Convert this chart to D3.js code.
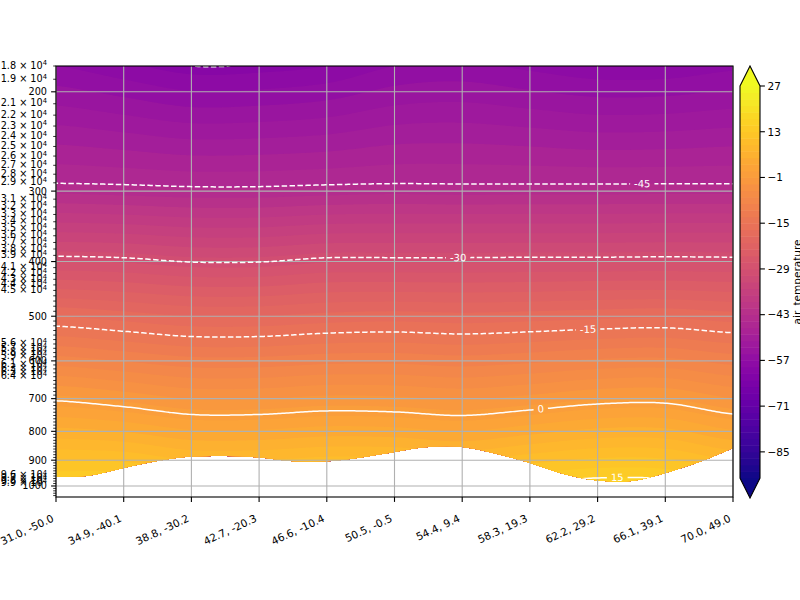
<!DOCTYPE html>
<html>
<head>
<meta charset="utf-8">
<script src="https://cdn.jsdelivr.net/npm/d3@7"></script>
<style>
  body { margin: 0; background: #fff; }
  svg { font-family: "DejaVu Sans", sans-serif; }
</style>
</head>
<body>
<svg id="chart" width="800" height="600"></svg>
<script>
// cross-section points (lat, lon)
const xLabels = ["31.0, -50.0", "34.9, -40.1", "38.8, -30.2", "42.7, -20.3", "46.6, -10.4", "50.5, -0.5",
  "54.4, 9.4", "58.3, 19.3", "62.2, 29.2", "66.1, 39.1", "70.0, 49.0"];

// pressure levels (hPa)
const pressureLevels = [180, 200, 250, 290, 300, 350, 400, 450, 500, 600, 700, 800, 850, 900, 950, 1000, 1050];

// air temperature (degC), one row per pressure level, one value per cross-section point
const airTemp = [
  [-57.0, -58.5, -60.0, -59.8, -59.0, -57.0, -56.5, -57.5, -58.5, -58.5, -57.5],
  [-54.4, -55.6, -56.9, -56.7, -56.0, -54.4, -54.0, -54.8, -55.6, -55.5, -54.8],
  [-48.8, -49.4, -50.1, -50.0, -49.6, -48.8, -48.7, -49.0, -49.4, -49.3, -49.0],
  [-45.1, -45.3, -45.6, -45.6, -45.35, -45.15, -45.2, -45.2, -45.2, -45.2, -45.2],
  [-43.5, -43.9, -44.3, -44.3, -43.9, -43.6, -43.8, -43.7, -43.7, -43.6, -43.6],
  [-35.7, -36.0, -36.7, -36.7, -36.0, -35.9, -35.9, -35.9, -35.9, -35.8, -35.8],
  [-28.9, -29.2, -30.1, -30.1, -29.2, -29.2, -29.2, -29.1, -29.1, -29.0, -29.1],
  [-22.7, -23.3, -24.2, -24.2, -23.4, -23.3, -23.4, -23.3, -23.0, -22.9, -23.3],
  [-17.0, -18.0, -19.0, -19.0, -18.3, -18.0, -18.3, -18.0, -17.6, -17.3, -18.1],
  [-8.0, -9.1, -10.2, -10.2, -9.6, -9.5, -10.0, -9.4, -8.6, -8.4, -9.7],
  [-0.4, -1.6, -3.1, -3.1, -2.4, -2.6, -3.2, -2.3, -1.1, -0.9, -2.9],
  [5.7, 4.9, 3.3, 3.3, 4.0, 3.8, 3.0, 4.3, 5.6, 5.6, 3.3],
  [8.4, 7.9, 6.2, 6.2, 6.9, 6.8, 6.0, 7.4, 8.6, 8.5, 6.2],
  [11.0, 10.7, 9.0, 9.0, 9.7, 9.6, 8.9, 10.3, 11.4, 11.3, 9.0],
  [13.4, 13.3, 11.7, 11.7, 12.3, 12.3, 11.6, 13.0, 14.1, 13.9, 11.7],
  [15.7, 15.8, 14.2, 14.2, 14.8, 14.8, 14.2, 15.6, 16.6, 16.4, 14.2],
  [18.0, 18.2, 16.6, 16.6, 17.2, 17.2, 16.6, 18.1, 19.1, 18.8, 16.6]
];

// surface pressure along the section (below it there is no data)
const surfaceX = [0, 0.5, 1, 1.5, 2, 2.5, 3, 3.5, 4, 4.5, 5, 5.5, 6, 6.5, 7, 7.5, 8, 8.5, 9, 9.5, 10];
const surfaceP = [963, 958, 929, 903, 887, 885, 890, 904, 904, 890, 870, 853, 853, 877, 910, 952, 978, 980, 948, 907, 856];

// contour settings
const fillLevels = d3.range(-93, 27.001, 2);
const lineLevels = [-60, -45, -30, -15, 0, 15];
const labelLevels = [-45, -30, -15, 0, 15];
const labelAt = [8.66, 5.94, 7.86, 7.16, 8.29];
const cbarTicks = [27, 13, -1, -15, -29, -43, -57, -71, -85];

const yMajor = [200, 300, 400, 500, 600, 700, 800, 900, 1000];
const yMinorLabeled = [180, 190, 210, 220, 230, 240, 250, 260, 270, 280, 290, 310, 320, 330, 340, 350, 360, 370, 380, 390,
  410, 420, 430, 440, 450, 560, 570, 580, 590, 610, 620, 630, 640, 960, 970, 980, 990];

const svg = d3.select("#chart");
const plotLeft = 56, plotRight = 733, plotTop = 66, plotBottom = 497;

const x = d3.scaleLinear().domain([0, 10]).range([plotLeft, plotRight]);
const y = d3.scaleLog().domain([1046, 180]).range([plotBottom, plotTop]);
const color = v => d3.interpolatePlasma((v - fillLevels[0]) / (fillLevels[fillLevels.length - 1] - fillLevels[0]));

// field lookup: linear in log p, catmull-rom along the section
const logP = pressureLevels.map(Math.log);
function columnValue(c, lp) {
  let j = d3.bisectRight(logP, lp) - 1;
  j = Math.max(0, Math.min(logP.length - 2, j));
  let t = (lp - logP[j]) / (logP[j + 1] - logP[j]);
  t = Math.max(0, Math.min(1, t));
  return airTemp[j][c] * (1 - t) + airTemp[j + 1][c] * t;
}
function field(xi, lp) {
  xi = Math.max(0, Math.min(10, xi));
  const i = Math.min(Math.floor(xi), 9), t = xi - i;
  const p0 = columnValue(Math.max(i - 1, 0), lp), p1 = columnValue(i, lp),
        p2 = columnValue(i + 1, lp), p3 = columnValue(Math.min(i + 2, 10), lp);
  return 0.5 * (2 * p1 + (-p0 + p2) * t + (2 * p0 - 5 * p1 + 4 * p2 - p3) * t * t + (-p0 + 3 * p1 - 3 * p2 + p3) * t * t * t);
}

const nx = 340, ny = 260;
const xi0 = -0.15, xi1 = 10.15, lp0 = Math.log(174), lp1 = Math.log(1065);
const sx = (xi1 - xi0) / (nx - 1), sy = (lp1 - lp0) / (ny - 1);
const values = new Float64Array(nx * ny);
for (let j = 0; j < ny; j++) {
  for (let i = 0; i < nx; i++) values[j * nx + i] = field(xi0 + i * sx, lp0 + j * sy);
}

const toPx = d3.geoTransform({
  point(px, py) {
    this.stream.point(x(xi0 + (px - 0.5) * sx), y(Math.exp(lp0 + (py - 0.5) * sy)));
  }
});
const gpath = d3.geoPath(toPx);

// clip: plot area above the ground
const surface = surfaceX.map((d, i) => [d, surfaceP[i]]);
const defs = svg.append("defs");
defs.append("clipPath").attr("id", "air")
  .append("path")
  .attr("d", d3.area()
    .x(d => x(d[0]))
    .y0(plotTop)
    .y1(d => y(d[1]))
    .curve(d3.curveCatmullRom)(surface));

// filled contours
const fills = d3.contours().size([nx, ny]).thresholds(fillLevels.slice(0, -1))(values);
svg.append("g").attr("clip-path", "url(#air)")
  .selectAll("path")
  .data(fills)
  .join("path")
  .attr("d", gpath)
  .attr("fill", d => color(d.value + 1));

// grid
const grid = svg.append("g").attr("stroke", "#b0b0b0").attr("stroke-width", 1.1);
grid.selectAll("line.gx").data(d3.range(0, 11)).join("line")
  .attr("x1", d => x(d)).attr("x2", d => x(d)).attr("y1", plotTop).attr("y2", plotBottom);
grid.selectAll("line.gy").data(yMajor).join("line")
  .attr("x1", plotLeft).attr("x2", plotRight).attr("y1", d => y(d)).attr("y2", d => y(d));

// contour label positions
function isoLogP(xi, level) {
  let lo = Math.log(180), hi = Math.log(1046);
  for (let k = 0; k < 40; k++) {
    const mid = (lo + hi) / 2;
    if (field(xi, mid) < level) lo = mid; else hi = mid;
  }
  return (lo + hi) / 2;
}
const labels = labelLevels.map((lev, k) => {
  const xi = labelAt[k];
  const px = x(xi), py = y(Math.exp(isoLogP(xi, lev)));
  const pa = [x(xi - 0.05), y(Math.exp(isoLogP(xi - 0.05, lev)))];
  const pb = [x(xi + 0.05), y(Math.exp(isoLogP(xi + 0.05, lev)))];
  const angle = Math.atan2(pb[1] - pa[1], pb[0] - pa[0]) * 180 / Math.PI;
  return {text: String(lev), px, py, angle};
});

const labelG = svg.append("g")
  .attr("fill", "#fff")
  .style("font-size", "10px")
  .attr("text-anchor", "middle")
  .attr("dominant-baseline", "central");
const labelText = labelG.selectAll("text").data(labels).join("text")
  .attr("transform", d => `translate(${d.px},${d.py}) rotate(${d.angle})`)
  .text(d => d.text);
labelText.each(function(d) { d.w = this.getComputedTextLength(); });

const mask = defs.append("mask").attr("id", "gaps").attr("maskUnits", "userSpaceOnUse")
  .attr("x", 0).attr("y", 0).attr("width", 800).attr("height", 600);
mask.append("rect").attr("width", 800).attr("height", 600).attr("fill", "#fff");
mask.selectAll("rect.gap").data(labels).join("rect")
  .attr("class", "gap")
  .attr("x", d => -d.w / 2 - 4).attr("y", -6)
  .attr("width", d => d.w + 8).attr("height", 12)
  .attr("transform", d => `translate(${d.px},${d.py}) rotate(${d.angle})`)
  .attr("fill", "#000");

// contour lines
const iso = d3.contours().size([nx, ny]).thresholds(lineLevels)(values);
svg.append("g").attr("clip-path", "url(#air)")
  .append("g").attr("mask", "url(#gaps)")
  .selectAll("path")
  .data(iso)
  .join("path")
  .attr("d", gpath)
  .attr("fill", "none")
  .attr("stroke", "#fff")
  .attr("stroke-width", 1.5)
  .attr("stroke-dasharray", d => d.value < 0 ? "5.5,2.4" : null);

labelG.raise();

// frame
svg.append("rect")
  .attr("x", plotLeft).attr("y", plotTop).attr("width", plotRight - plotLeft).attr("height", plotBottom - plotTop)
  .attr("fill", "none").attr("stroke", "#000").attr("stroke-width", 1.1);

// x axis
const xAxis = svg.append("g");
xAxis.selectAll("line").data(d3.range(0, 11)).join("line")
  .attr("x1", d => x(d)).attr("x2", d => x(d)).attr("y1", plotBottom).attr("y2", plotBottom + 4.9)
  .attr("stroke", "#000").attr("stroke-width", 1.1);
xAxis.selectAll("text").data(xLabels).join("text")
  .attr("text-anchor", "end")
  .attr("transform", (d, i) => `translate(${x(i) - 1.5},${plotBottom + 24}) rotate(-25)`)
  .style("font-size", "10.5px")
  .text(d => d);

// y axis
const yAxis = svg.append("g");
yAxis.selectAll("line.maj").data(yMajor).join("line")
  .attr("class", "maj")
  .attr("x1", plotLeft - 4.9).attr("x2", plotLeft).attr("y1", d => y(d)).attr("y2", d => y(d))
  .attr("stroke", "#000").attr("stroke-width", 1.1);
const yMinor = d3.range(180, 1041, 10).filter(d => d % 100 !== 0);
yAxis.selectAll("line.min").data(yMinor).join("line")
  .attr("class", "min")
  .attr("x1", plotLeft - 2.8).attr("x2", plotLeft).attr("y1", d => y(d)).attr("y2", d => y(d))
  .attr("stroke", "#000").attr("stroke-width", 0.8);
yAxis.selectAll("text.maj").data(yMajor).join("text")
  .attr("class", "maj")
  .attr("x", 47).attr("y", d => y(d) + 3.5)
  .attr("text-anchor", "end")
  .style("font-size", "9.7px")
  .text(d => d);
const minorText = yAxis.selectAll("text.min").data(yMinorLabeled).join("text")
  .attr("class", "min")
  .attr("x", 47).attr("y", d => y(d) + 2.5)
  .attr("text-anchor", "end")
  .style("font-size", "9.7px");
minorText.append("tspan").text(d => (d / 100).toFixed(1) + " \u00d7 10");
minorText.append("tspan").attr("dy", "-0.45em").style("font-size", "6.8px").text("4");

// colorbar
const cbX = 740, cbW = 20;
const cb = d3.scaleLinear().domain([fillLevels[0], fillLevels[fillLevels.length - 1]]).range([478, 86]);
const cbar = svg.append("g");
cbar.selectAll("rect").data(fillLevels.slice(0, -1)).join("rect")
  .attr("x", cbX).attr("width", cbW)
  .attr("y", d => cb(d + 2)).attr("height", d => cb(d) - cb(d + 2) + 0.5)
  .attr("fill", d => color(d + 1));
cbar.append("path")
  .attr("d", `M${cbX},${cb(27)}L${cbX + cbW / 2},${cb(27) - 20}L${cbX + cbW},${cb(27)}Z`)
  .attr("fill", d3.interpolatePlasma(1));
cbar.append("path")
  .attr("d", `M${cbX},${cb(-93)}L${cbX + cbW / 2},${cb(-93) + 20}L${cbX + cbW},${cb(-93)}Z`)
  .attr("fill", d3.interpolatePlasma(0));
cbar.append("path")
  .attr("d", `M${cbX},${cb(27)}L${cbX + cbW / 2},${cb(27) - 20}L${cbX + cbW},${cb(27)}L${cbX + cbW},${cb(-93)}L${cbX + cbW / 2},${cb(-93) + 20}L${cbX},${cb(-93)}Z`)
  .attr("fill", "none").attr("stroke", "#000").attr("stroke-width", 1.1);
cbar.selectAll("line").data(cbarTicks).join("line")
  .attr("x1", cbX + cbW).attr("x2", cbX + cbW + 4.9).attr("y1", d => cb(d)).attr("y2", d => cb(d))
  .attr("stroke", "#000").attr("stroke-width", 1.1);
cbar.selectAll("text").data(cbarTicks).join("text")
  .attr("x", cbX + cbW + 7.5).attr("y", d => cb(d) + 3.8)
  .style("font-size", "10.5px")
  .text(d => (d < 0 ? "\u2212" : "") + Math.abs(d));
svg.append("text")
  .attr("transform", "translate(801,282) rotate(-90)")
  .attr("text-anchor", "middle")
  .style("font-size", "10.5px")
  .text("air_temperature");
</script>
</body>
</html>
